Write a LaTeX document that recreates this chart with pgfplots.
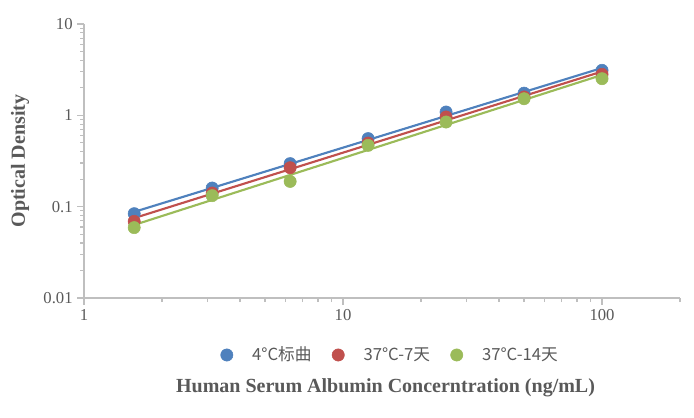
\documentclass[border=0pt]{standalone}
\usepackage{pgfplots}
\pgfplotsset{compat=1.18}
\usepackage{fontspec}
\setmainfont{Liberation Serif}
\newfontfamily\cjk{Noto Sans CJK SC}
\definecolor{cblue}{HTML}{4F81BD}
\definecolor{cred}{HTML}{C0504D}
\definecolor{cgreen}{HTML}{9BBB59}
\definecolor{axgray}{HTML}{BFBFBF}
\definecolor{txtgray}{HTML}{595959}
\begin{document}
\begin{tikzpicture}
\path[use as bounding box] (-63pt,-90pt) rectangle (457.5pt,223.5pt);
\begin{axis}[
  at={(0,0)}, anchor=south west,
  scale only axis, width=447pt, height=205.5pt,
  xmode=log, ymode=log,
  xmin=1, xmax=200, ymin=0.01, ymax=10,
  axis lines*=left,
  axis line style={axgray, line width=1.1pt},
  xtick={1,10,100}, xticklabels={1,10,100},
  ytick={0.01,0.1,1,10}, yticklabels={0.01,0.1,1,10},
  minor xtick={2,3,4,5,6,7,8,9,20,30,40,50,60,70,80,90,200},
  minor ytick={0.02,0.03,0.04,0.05,0.06,0.07,0.08,0.09,0.2,0.3,0.4,0.5,0.6,0.7,0.8,0.9,2,3,4,5,6,7,8,9},
  tick align=outside,
  major tick length=5pt, minor tick length=3pt,
  every tick/.style={axgray, line width=0.9pt},
  /pgf/number format/assume math mode=true,
  ticklabel style={font=\fontsize{12.5}{14}\selectfont, text=txtgray},
  xlabel={Human Serum Albumin Concerntration (ng/mL)},
  ylabel={Optical Density},
  xlabel style={at={(axis description cs:0.506,-0.328)}, anchor=center, font=\bfseries\fontsize{15}{18}\selectfont, text=txtgray},
  ylabel style={at={(axis description cs:-0.1074,0.5)}, anchor=center, font=\bfseries\fontsize{15}{18}\selectfont, text=txtgray},
  legend image code/.code={\path[#1] plot coordinates {(0pt,0pt)}; \path[draw=none, fill=none] (-5pt,-4pt) rectangle (17pt,4pt);},
  legend style={at={(axis description cs:0.514,-0.208)}, anchor=center, draw=none, fill=none,
    legend columns=3, font=\cjk\fontsize{12.5}{14}\selectfont, text=txtgray,
    /tikz/every even column/.append style={column sep=13pt}},
  legend cell align=left,
]
\addplot[only marks, mark=*, mark size=4.6pt, color=cblue, mark options={draw=cblue, fill=cblue}]
  coordinates {(1.5625,0.0838)(3.125,0.160)(6.25,0.296)(12.5,0.556)(25,1.087)(50,1.75)(100,3.11)};
\addlegendentry{4°C标曲}
\addplot[only marks, mark=*, mark size=4.6pt, color=cred, mark options={draw=cred, fill=cred}]
  coordinates {(1.5625,0.069)(3.125,0.141)(6.25,0.267)(12.5,0.497)(25,0.96)(50,1.59)(100,2.81)};
\addlegendentry{37°C-7天}
\addplot[only marks, mark=*, mark size=4.6pt, color=cgreen, mark options={draw=cgreen, fill=cgreen}]
  coordinates {(1.5625,0.059)(3.125,0.132)(6.25,0.189)(12.5,0.469)(25,0.845)(50,1.52)(100,2.52)};
\addlegendentry{37°C-14天}
\addplot[forget plot, cblue, line width=1.6pt] coordinates {(1.5625,0.0877)(100,3.30)};
\addplot[forget plot, cred, line width=1.6pt] coordinates {(1.5625,0.0750)(100,3.02)};
\addplot[forget plot, cgreen, line width=1.6pt] coordinates {(1.5625,0.0631)(100,2.77)};
\end{axis}
\end{tikzpicture}
\end{document}
